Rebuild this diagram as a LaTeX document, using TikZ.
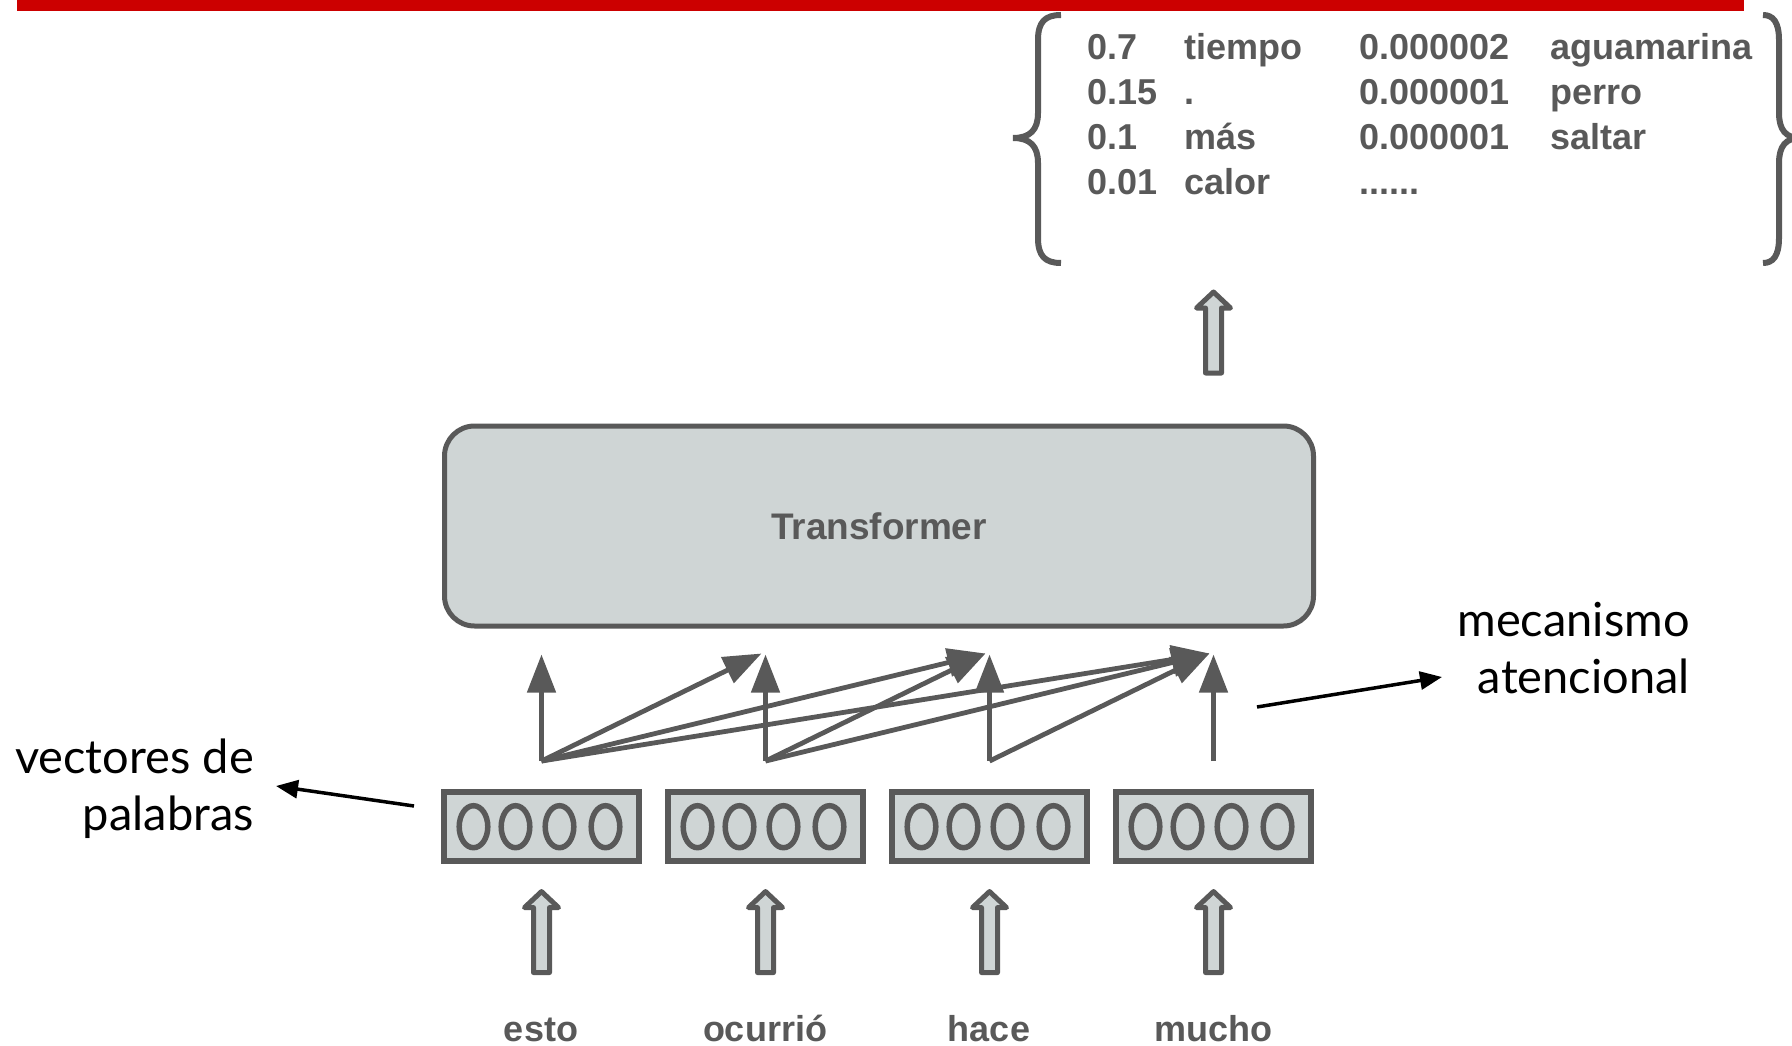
\documentclass[tikz,border=0pt]{standalone}
\usepackage{fontspec}
\setmainfont{Liberation Sans}
\newfontfamily\latofont{Lato}
\usetikzlibrary{arrows.meta,calc}
\definecolor{dk}{HTML}{595959}
\definecolor{lt}{HTML}{CFD5D5}
\definecolor{rd}{HTML}{CC0000}
\begin{document}
\begin{tikzpicture}[x=1pt,y=-1pt,
  graybox/.style={draw=dk, fill=lt, line width=5pt},
  tfbox/.style={graybox, rounded corners=30pt, minimum width=869pt, minimum height=200pt, inner sep=0pt, text=dk, font=\bfseries\fontsize{37}{44}\selectfont},
  vecbox/.style={graybox, line width=5.5pt, minimum width=195pt, minimum height=69pt, inner sep=0pt},
  cell/.style={draw=dk, line width=5.5pt},
  att/.style={draw=dk, line width=4.8pt, -{Triangle[length=38pt,width=28pt]}},
  ptr/.style={draw=black, line width=3.5pt, -{Triangle[length=22pt,width=18pt]}},
  word/.style={text=dk, font=\bfseries\fontsize{36}{43}\selectfont, inner sep=0pt, anchor=base},
  lbl/.style={font=\latofont\fontsize{47}{57}\selectfont, align=right, inner sep=0pt, anchor=base east},
  prob/.style={text=dk, font=\bfseries\fontsize{36}{45}\selectfont, align=left, inner sep=0pt, anchor=base west},
  hollow/.style={draw=dk, fill=lt, line width=5pt, line join=round},
  bracestyle/.style={draw=dk, line width=6pt},
  hollowup/.pic={\draw[hollow] (0,0) -- (17,16) -- (8,16) -- (8,81) -- (-8,81) -- (-8,16) -- (-17,16) -- cycle;}
]
\useasboundingbox (0,0) rectangle (1792,1046);
\clip (0,0) rectangle (1792,1046);

% red bar
\fill[rd] (17,0) rectangle (1744,11);

% transformer
\node[tfbox] (tr) at (879,526) {Transformer};

% word vectors
\foreach \i/\x in {1/541.5,2/765.5,3/989.5,4/1213.5} {
  \node[vecbox] (v\i) at (\x,826.3) {};
  \foreach \dx in {-68,-26,18,64}
    \draw[cell] ($(v\i.center)+(\dx,0.4)$) ellipse [x radius=14.3pt, y radius=21pt];
  \coordinate (s\i) at ($(v\i.north)+(0,-28)$);
  \coordinate (t\i) at ($(tr.south -| v\i.north)+(0,26)$);
  \coordinate (d\i) at ($(t\i)+(-4,-1)$);
  \path (v\i.south) ++(0,28) pic {hollowup};
}

% input words
\node[word] (w1) at (541,1041) {esto};
\node[word] (w2) at (765,1041) {ocurrió};
\node[word] (w3) at (989,1041) {hace};
\node[word] (w4) at (1213,1041) {mucho};

% attention arrows
\foreach \i in {1,...,4} \draw[att] (s\i) -- (t\i);
\draw[att] (s1) -- (d2);
\draw[att] (s1) -- (d3);
\draw[att] (s1) -- (d4);
\draw[att] (s2) -- (d3);
\draw[att] (s2) -- (d4);
\draw[att] (s3) -- (d4);

% output arrow
\path (tr.north -| v4.north) ++(0,-131.5) pic {hollowup};

% output distribution (anchor = baseline of last line)
\node[prob] (p1) at (1087,195) {0.7\\0.15\\0.1\\0.01};
\node[prob] (p2) at (1184,195) {tiempo\\.\\más\\calor};
\node[prob] (p3) at (1359,195) {0.000002\\0.000001\\0.000001\\......};
\node[prob] (p4) at (1550,150) {aguamarina\\perro\\saltar};

% braces
\draw[bracestyle] (1061,15) .. controls (1045,15) and (1038,22) .. (1038,40) -- (1038,113)
  .. controls (1038,130) and (1030,138) .. (1013,138)
  .. controls (1030,138) and (1038,146) .. (1038,163) -- (1038,238)
  .. controls (1038,256) and (1045,263) .. (1061,263);
\draw[bracestyle] (1763,15) .. controls (1773,15) and (1779,22) .. (1779,40) -- (1779,113)
  .. controls (1779,130) and (1786,138) .. (1800,138)
  .. controls (1786,138) and (1779,146) .. (1779,163) -- (1779,238)
  .. controls (1779,256) and (1773,263) .. (1763,263);

% labels (anchor = baseline of last line)
\node[lbl] (vl) at (254,830) {vectores de\\palabras};
\node[lbl] (ml) at (1690,693) {mecanismo\\atencional};
\coordinate (pva) at (414,806);
\coordinate (pvb) at (276,786);
\draw[ptr] (pva) -- (pvb);
\coordinate (pma) at (1257,707);
\coordinate (pmb) at (1442,677);
\draw[ptr] (pma) -- (pmb);
\end{tikzpicture}
\end{document}
